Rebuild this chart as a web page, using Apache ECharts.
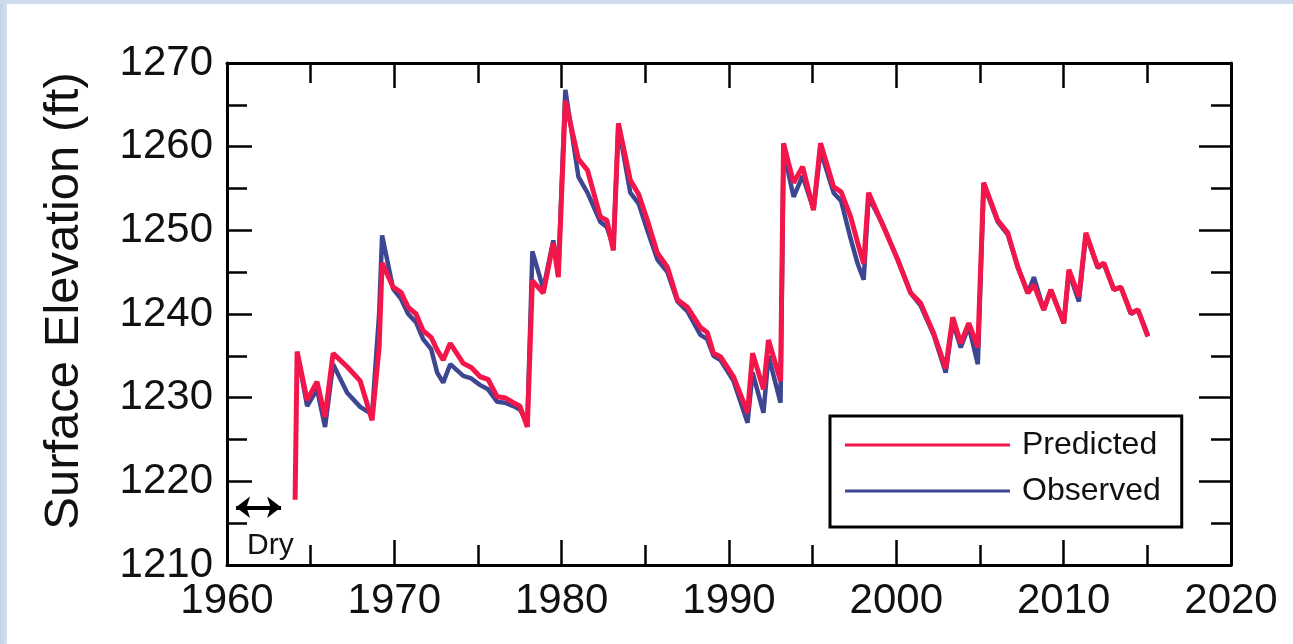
<!DOCTYPE html>
<html>
<head>
<meta charset="utf-8">
<script src="https://cdn.jsdelivr.net/npm/echarts@6/dist/echarts.min.js"></script>
<style>
  html, body { margin: 0; padding: 0; width: 1293px; height: 644px; overflow: hidden;
    background: linear-gradient(90deg, #c3d2e8 0px, #d6e1ef 7px, #ffffff 7px); }
  #topband { position: absolute; left: 0; top: 0; width: 1293px; height: 4px; background: #cfdbec; }
  #chart { position: absolute; left: 7px; top: 4px; width: 1286px; height: 640px; background: #fff; }
</style>
</head>
<body>
<div id="topband"></div>
<div id="chart"></div>
<script>
// years (decimal) of the sampled points
const years = [
  1964.07, 1964.19, 1964.79, 1965.38, 1965.86, 1966.34, 1967.18, 1967.96, 1968.67, 1969.09,
  1969.27, 1969.93, 1970.40, 1970.83, 1971.30, 1971.72, 1972.20, 1972.56, 1972.92, 1973.34,
  1974.12, 1974.60, 1975.13, 1975.60, 1976.15, 1976.60, 1977.11, 1977.50, 1977.95, 1978.25,
  1978.90, 1979.50, 1979.80, 1980.22, 1981.00, 1981.54, 1982.31, 1982.70, 1983.09, 1983.39,
  1984.10, 1984.60, 1985.12, 1985.72, 1986.32, 1986.92, 1987.52, 1988.29, 1988.70, 1989.07,
  1989.49, 1990.27, 1991.11, 1991.41, 1992.06, 1992.36, 1993.08, 1993.26, 1993.86, 1994.40,
  1995.05, 1995.47, 1996.25, 1996.70, 1997.27, 1997.69, 1998.05, 1998.34, 1999.24, 2000.08,
  2000.86, 2001.45, 2002.23, 2002.95, 2003.37, 2003.85, 2004.33, 2004.87, 2005.22, 2006.06,
  2006.66, 2007.26, 2007.86, 2008.22, 2008.81, 2009.23, 2010.01, 2010.31, 2010.91, 2011.33,
  2012.04, 2012.40, 2013.00, 2013.42, 2014.02, 2014.44, 2015.03
];
const predicted = [
  1217.8, 1235.5, 1229.7, 1231.9, 1227.7, 1235.3, 1233.7, 1232.0, 1227.3, 1236.0,
  1246.1, 1243.2, 1242.6, 1240.8, 1240.0, 1238.0, 1237.2, 1235.7, 1234.5, 1236.5,
  1234.1, 1233.6, 1232.5, 1232.2, 1230.1, 1230.0, 1229.4, 1229.0, 1226.5, 1244.0,
  1242.5, 1248.5, 1244.4, 1265.5, 1258.5, 1257.2, 1251.6, 1251.2, 1247.6, 1262.8,
  1256.0, 1254.3, 1251.2, 1247.3, 1245.6, 1241.7, 1240.8, 1238.4, 1237.8, 1235.3,
  1234.9, 1232.5, 1228.2, 1235.3, 1231.0, 1236.9, 1232.0, 1260.4, 1255.7, 1257.6,
  1252.4, 1260.4, 1255.2, 1254.6, 1251.6, 1248.5, 1246.0, 1254.5, 1250.4, 1246.5,
  1242.5, 1241.3, 1237.7, 1233.5, 1239.6, 1236.5, 1238.9, 1236.0, 1255.7, 1251.2,
  1249.7, 1245.6, 1242.5, 1243.5, 1240.5, 1242.9, 1238.9, 1245.3, 1242.1, 1249.7,
  1245.6, 1246.1, 1242.9, 1243.2, 1240.1, 1240.5, 1237.3
];
const observed = [
  null,   1235.5, 1229.0, 1231.0, 1226.5, 1234.0, 1230.6, 1228.9, 1228.0, 1240.0,
  1249.4, 1243.0, 1241.8, 1240.0, 1239.0, 1237.0, 1235.8, 1233.0, 1231.8, 1234.0,
  1232.6, 1232.3, 1231.5, 1231.0, 1229.5, 1229.4, 1229.0, 1228.6, 1227.0, 1247.5,
  1243.0, 1248.8, 1245.0, 1266.8, 1256.4, 1254.5, 1251.0, 1250.4, 1248.0, 1262.5,
  1254.5, 1253.2, 1250.0, 1246.5, 1245.0, 1241.5, 1240.3, 1237.5, 1237.0, 1235.0,
  1234.5, 1232.0, 1227.0, 1233.0, 1228.2, 1235.0, 1229.4, 1259.5, 1254.0, 1256.5,
  1252.5, 1259.5, 1254.5, 1253.5, 1249.0, 1246.0, 1244.1, 1254.0, 1250.5, 1246.5,
  1242.5, 1241.0, 1237.5, 1233.0, 1239.0, 1236.0, 1238.5, 1234.0, 1255.5, 1251.0,
  1249.5, 1245.6, 1242.5, 1244.4, 1240.5, 1242.9, 1238.9, 1245.0, 1241.5, 1249.5,
  1245.5, 1246.0, 1242.9, 1243.2, 1240.0, 1240.5, 1237.5
];
const xTicks = { min: 1960, max: 2020, interval: 10 };
const yTicks = { min: 1210, max: 1270, interval: 10 };
const dryRange = [1960.54, 1963.23];
const dryLevel = 1216.9;

const chart = echarts.init(document.getElementById('chart'));

function axisStyle(tickLen) {
  return {
    axisLine: { show: true, onZero: false, lineStyle: { color: '#000', width: 3 } },
    axisTick: { show: true, inside: true, length: tickLen, lineStyle: { color: '#000', width: 2.5 } },
    minorTick: { show: true, splitNumber: 2, length: 20, lineStyle: { color: '#000', width: 2.5 } },
    splitLine: { show: false },
    minorSplitLine: { show: false }
  };
}
const labelFont = { fontFamily: 'Liberation Sans, Arial, sans-serif', fontSize: 42, color: '#111' };

chart.setOption({
  animation: false,
  backgroundColor: '#fff',
  grid: { left: 220, top: 59, right: 62, bottom: 79 },
  legend: {
    orient: 'vertical',
    left: 823,
    top: 412,
    padding: [13, 21, 20, 15],
    itemGap: 14,
    itemWidth: 165,
    itemHeight: 3,
    icon: 'rect',
    borderColor: '#000',
    borderWidth: 3,
    backgroundColor: '#fff',
    data: ['Predicted', 'Observed'],
    textStyle: { fontFamily: 'Liberation Sans, Arial, sans-serif', fontSize: 32, color: '#111',
      lineHeight: 32, padding: [0, 0, 0, 7] }
  },
  xAxis: [
    Object.assign({ type: 'value', position: 'bottom', min: xTicks.min, max: xTicks.max, interval: xTicks.interval,
      axisLabel: Object.assign({ margin: 15, formatter: v => String(v) }, labelFont) }, axisStyle(25)),
    Object.assign({ type: 'value', position: 'top', min: xTicks.min, max: xTicks.max, interval: xTicks.interval,
      axisLabel: { show: false } }, axisStyle(25))
  ],
  yAxis: [
    Object.assign({ type: 'value', position: 'left', min: yTicks.min, max: yTicks.max, interval: yTicks.interval,
      name: 'Surface Elevation (ft)', nameLocation: 'middle', nameGap: 138,
      nameTextStyle: { fontFamily: 'Liberation Sans, Arial, sans-serif', fontSize: 49, color: '#111',
        padding: [0, 0, 0, 26] },
      axisLabel: Object.assign({ margin: 14, formatter: v => String(v) }, labelFont) }, axisStyle(25)),
    Object.assign({ type: 'value', position: 'right', min: yTicks.min, max: yTicks.max, interval: yTicks.interval,
      axisLabel: { show: false } }, axisStyle(32))
  ],
  graphic: [
    { type: 'text', left: 240, top: 527,
      style: { text: 'Dry', font: '30px Liberation Sans, Arial, sans-serif', fill: '#111' } }
  ],
  series: [
    {
      name: 'Observed',
      type: 'line',
      showSymbol: false,
      color: '#3d4690',
      lineStyle: { width: 4.5, color: '#3d4690' },
      z: 2,
      data: years.map((y, i) => [y, observed[i]])
    },
    {
      name: 'Predicted',
      type: 'line',
      showSymbol: false,
      color: '#f2164a',
      lineStyle: { width: 5, color: '#f2164a' },
      z: 3,
      data: years.map((y, i) => [y, predicted[i]]),
      markLine: {
        silent: true,
        symbol: ['arrow', 'arrow'],
        symbolSize: [16, 14],
        label: { show: false },
        lineStyle: { color: '#000', width: 4, type: 'solid' },
        data: [[{ coord: [dryRange[0], dryLevel] }, { coord: [dryRange[1], dryLevel] }]]
      }
    }
  ]
});
</script>
</body>
</html>
